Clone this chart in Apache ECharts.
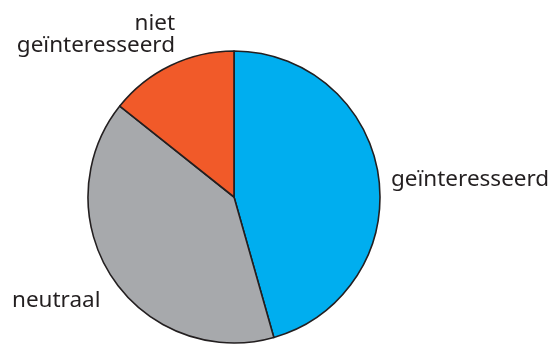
<!DOCTYPE html>
<html><head><meta charset="utf-8">
<script src="https://cdn.jsdelivr.net/npm/echarts@6/dist/echarts.min.js"></script>
<style>html,body{margin:0;padding:0;background:#fff}#c{width:557px;height:344px}</style>
</head><body><div id="c"></div>
<script>
const categories = ['geïnteresseerd', 'neutraal', 'niet\ngeïnteresseerd'];
const values = [45.6, 40.1, 14.3];
const colors = ['#00AEEF', '#A7A9AC', '#F15A29'];

const chart = echarts.init(document.getElementById('c'), null, {renderer: 'canvas'});
const font = '22.5px "Noto Sans", "Open Sans", sans-serif';
const txt = '#231F20';
const nietLines = categories[2].split('\n');
chart.setOption({
  animation: false,
  series: [{
    type: 'pie',
    center: [234, 197],
    radius: 146,
    startAngle: 90,
    clockwise: true,
    label: {show: false},
    labelLine: {show: false},
    emphasis: {disabled: true},
    itemStyle: {borderColor: '#231F20', borderWidth: 1.6},
    data: categories.map((c, i) => ({name: c, value: values[i], itemStyle: {color: colors[i]}}))
  }],
  graphic: [
    {type: 'text', style: {x: 391, y: 168, text: categories[0], font: font, fill: txt, align: 'left', verticalAlign: 'top'}},
    {type: 'text', style: {x: 12, y: 289, text: categories[1], font: font, fill: txt, align: 'left', verticalAlign: 'top'}},
    {type: 'text', style: {x: 175, y: 12, text: nietLines[0], font: font, fill: txt, align: 'right', verticalAlign: 'top'}},
    {type: 'text', style: {x: 175, y: 34, text: nietLines[1], font: font, fill: txt, align: 'right', verticalAlign: 'top'}}
  ]
});
</script></body></html>
